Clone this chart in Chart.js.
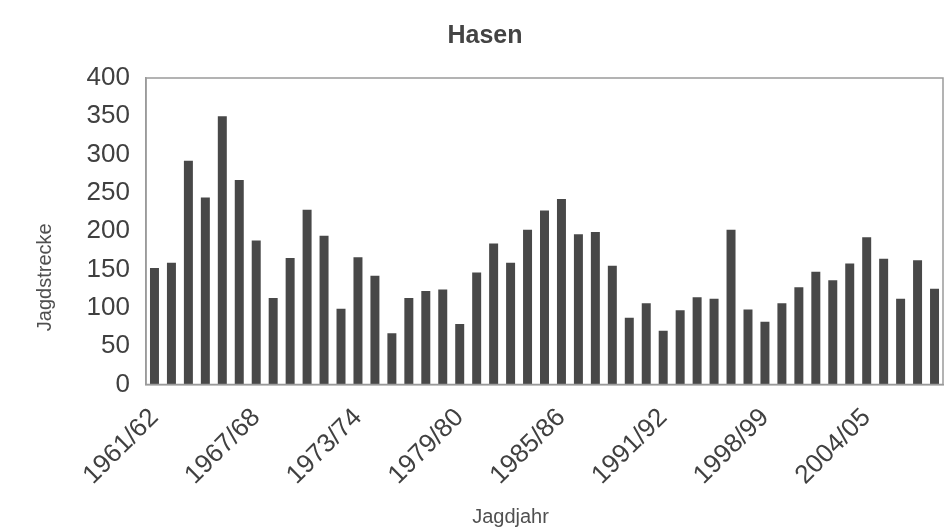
<!DOCTYPE html>
<html>
<head>
<meta charset="utf-8">
<script src="https://cdn.jsdelivr.net/npm/chart.js@4"></script>
<style>
  html,body{margin:0;padding:0;background:#fff;}
  #wrap{width:946px;height:531px;}
</style>
</head>
<body>
<div id="wrap"><canvas id="hasenChart" width="946" height="531"></canvas></div>
<script>
const seasons=["1961/62","1962/63","1963/64","1964/65","1965/66","1966/67","1967/68","1968/69","1969/70","1970/71",
  "1971/72","1972/73","1973/74","1974/75","1975/76","1976/77","1977/78","1978/79","1979/80","1980/81",
  "1981/82","1982/83","1983/84","1984/85","1985/86","1986/87","1987/88","1988/89","1989/90","1990/91",
  "1991/92","1993/94","1994/95","1995/96","1996/97","1997/98","1998/99","1999/00","2000/01","2001/02",
  "2002/03","2003/04","2004/05","2005/06","2006/07","2007/08","2008/09"];
const strecke=[152,159,292,244,350,267,188,113,165,228,194,99,166,142,67,113,122,124,79,146,
  184,159,202,227,242,196,199,155,87,106,70,97,114,112,202,98,82,106,127,147,
  136,158,192,164,112,162,125];
const yTicks=[0,50,100,150,200,250,300,350,400];
const xTitle="Jagdjahr", yTitle="Jagdstrecke";

const font="Liberation Sans, Arial";

// frame round the plot area + the two axis titles (placed off-centre like in the original)
const plotFrame={
  id:"plotFrame",
  afterDraw(chart){
    const a=chart.chartArea, c=chart.ctx;
    c.save(); c.strokeStyle="#9a9a9a"; c.lineWidth=1.5;
    c.strokeRect(a.left,a.top,a.right-a.left,a.bottom-a.top);
    c.fillStyle="#505050"; c.font="20px "+font;
    c.textAlign="center"; c.textBaseline="middle";
    c.fillText(xTitle,(a.left+a.right)/2-34,chart.height-14);
    c.translate(45,(a.top+a.bottom)/2+46); c.rotate(-Math.PI/2);
    c.fillText(yTitle,0,0);
    c.restore();
  }
};

new Chart(document.getElementById("hasenChart").getContext("2d"),{
  type:"bar",
  data:{labels:seasons,datasets:[{label:"Hasen",data:strecke,backgroundColor:"#484848",
    barPercentage:0.53,categoryPercentage:1}]},
  options:{
    responsive:false,animation:false,
    layout:{padding:{left:27,right:3,top:0,bottom:22}},
    plugins:{
      legend:{display:false},tooltip:{enabled:false},
      title:{display:true,text:"Hasen",color:"#444",font:{family:font,size:25,weight:"bold"},
        padding:{top:21,bottom:27}}
    },
    scales:{
      x:{
        grid:{display:false,drawTicks:false},
        border:{color:"#9a9a9a",width:1.5},
        afterFit(scale){ scale.paddingRight=0; }, // empty last label, no extra room needed
        ticks:{autoSkip:false,maxRotation:45,minRotation:45,padding:18,color:"#404040",
          font:{family:font,size:26},
          callback:(v,i)=>i%6===0?seasons[i]:""}
      },
      y:{
        min:0,max:400,
        afterBuildTicks(axis){axis.ticks=yTicks.map(v=>({value:v}));},
        afterFit(scale){ scale.width=119; }, // leaves room for the y title
        grid:{display:false,drawTicks:false},
        border:{color:"#9a9a9a",width:1.5},
        ticks:{padding:16,color:"#404040",font:{family:font,size:26}}
      }
    }
  },
  plugins:[plotFrame]
});
</script>
</body>
</html>
